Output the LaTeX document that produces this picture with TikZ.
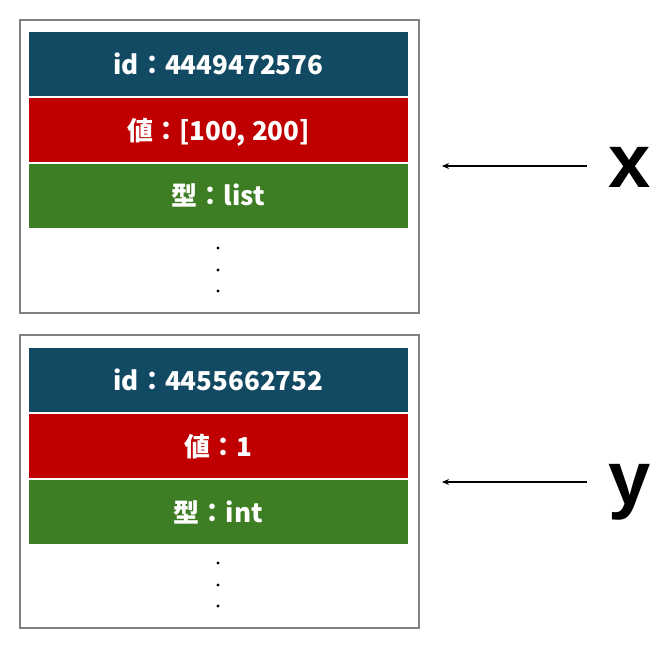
\documentclass[tikz,border=0pt]{standalone}
\usepackage{fontspec}
\newfontfamily\jpfont{Noto Sans CJK JP}
\newfontfamily\varfont{Liberation Sans}
\usetikzlibrary{arrows.meta,positioning}

\definecolor{idblue}{HTML}{134A63}
\definecolor{valred}{HTML}{C00000}
\definecolor{typegreen}{HTML}{3D7E24}
\definecolor{framegray}{HTML}{808080}

\begin{document}
\begin{tikzpicture}[x=1pt, y=-1pt, >=Stealth, node distance=1.5pt,
    frame/.style={draw=framegray, line width=2pt, minimum width=399pt, minimum height=293pt, inner sep=0pt},
    bar/.style={minimum width=379pt, minimum height=64pt, inner sep=0pt, text=white,
        text height=21pt, text depth=1pt,
        font=\jpfont\bfseries\fontsize{26}{26}\selectfont},
    idbar/.style={bar, fill=idblue, anchor=north},
    valbar/.style={bar, fill=valred},
    typebar/.style={bar, fill=typegreen},
    varname/.style={font=\varfont\bfseries\fontsize{76}{76}\selectfont, anchor=base, inner sep=0pt},
    ptr/.style={->, line width=1.5pt, >={Stealth[length=7pt, width=6pt]}}]

    \useasboundingbox (0,0) rectangle (670,650);

    % --- x のオブジェクト ---
    \node[frame] (xbox) at (219.5,166.5) {};
    \node[idbar] (xid) at (218.5,32) {id：4449472576};
    \node[valbar, below=of xid] (xval) {値：[100, 200]};
    \node[typebar, below=of xval] (xtype) {型：list};
    \fill (218,248) circle (1.6pt);
    \fill (218,270) circle (1.6pt);
    \fill (218,291) circle (1.6pt);

    % --- y のオブジェクト ---
    \node[frame] (ybox) at (219.5,481.5) {};
    \node[idbar] (yid) at (218.5,348) {id：4455662752};
    \node[valbar, below=of yid] (yval) {値：1};
    \node[typebar, below=of yval] (ytype) {型：int};
    \fill (218,563) circle (1.6pt);
    \fill (218,585) circle (1.6pt);
    \fill (218,606) circle (1.6pt);

    % --- 変数名と参照 ---
    \node[varname] (xvar) at (630,188) {x};
    \node[varname] (yvar) at (630,504) {y};
    \coordinate (xfrom) at (587,166);
    \coordinate (xto)   at (442,166);
    \coordinate (yfrom) at (587,482);
    \coordinate (yto)   at (442,482);
    \draw[ptr] (xfrom) -- (xto);
    \draw[ptr] (yfrom) -- (yto);

\end{tikzpicture}
\end{document}
